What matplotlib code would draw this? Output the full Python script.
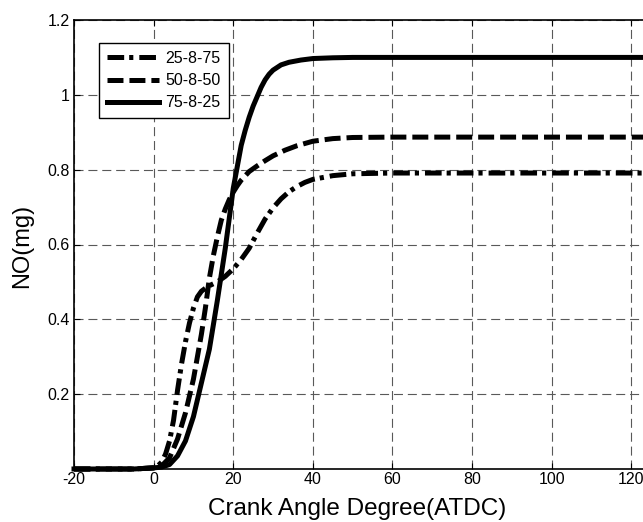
import numpy as np
import matplotlib
matplotlib.use("Agg")
from matplotlib import pyplot as plt

plt.rcParams['font.family'] = ['Liberation Sans', 'DejaVu Sans']
plt.rcParams['lines.scale_dashes'] = False
plt.rcParams['axes.unicode_minus'] = False

# NO mass vs crank angle, three injection splits
labels = ["25-8-75", "50-8-50", "75-8-25"]

x_25 = [-20, -5, 0, 1, 2, 3, 4, 5, 6, 7, 8, 9, 10, 11, 12, 13, 14, 16, 18, 20,
        22, 24, 26, 28, 30, 32, 34, 36, 38, 40, 45, 50, 60, 140]
y_25 = [0, 0, 0.003, 0.008, 0.018, 0.04, 0.075, 0.13, 0.21, 0.28, 0.34, 0.39,
        0.43, 0.46, 0.475, 0.483, 0.49, 0.50, 0.515, 0.535, 0.56, 0.59, 0.63,
        0.668, 0.698, 0.722, 0.741, 0.755, 0.766, 0.774, 0.784, 0.789, 0.791,
        0.791]

x_50 = [-20, -5, 0, 2, 4, 6, 8, 10, 11, 12, 13, 14, 15, 16, 17, 18, 19, 20, 21,
        22, 24, 26, 28, 30, 33, 36, 40, 45, 50, 60, 140]
y_50 = [0, 0, 0.003, 0.008, 0.03, 0.08, 0.15, 0.24, 0.30, 0.36, 0.43, 0.51,
        0.57, 0.62, 0.665, 0.695, 0.72, 0.74, 0.757, 0.772, 0.795, 0.81, 0.824,
        0.837, 0.852, 0.864, 0.876, 0.883, 0.886, 0.887, 0.887]

x_75 = [-20, -5, 0, 2, 4, 6, 8, 10, 12, 14, 16, 18, 20, 22, 23, 24, 25, 26, 27,
        28, 29, 30, 32, 34, 37, 40, 45, 50, 140]
y_75 = [0, 0, 0.003, 0.005, 0.012, 0.035, 0.075, 0.14, 0.23, 0.32, 0.45, 0.59,
        0.75, 0.865, 0.905, 0.94, 0.97, 0.995, 1.02, 1.04, 1.055, 1.066, 1.08,
        1.087, 1.093, 1.097, 1.099, 1.1, 1.1]

xticks = [-20, 0, 20, 40, 60, 80, 100, 120]
yticks = [0.2, 0.4, 0.6, 0.8, 1.0, 1.2]
ytick_labels = ["0.2", "0.4", "0.6", "0.8", "1", "1.2"]

W, H = 643, 522
fig = plt.figure(figsize=(W / 100, H / 100), dpi=100)
# axes runs off the right edge of the picture, like the cropped original
ax = fig.add_axes([74 / W, 1 - 469 / H, 637 / W, 449 / H])

lw = 3.6
ax.plot(x_25, y_25, color='k', lw=lw, linestyle=(0, (12, 3.6, 3, 4.3)),
        label=labels[0], clip_on=False)
ax.plot(x_50, y_50, color='k', lw=lw, linestyle=(0, (11.5, 4.3)),
        label=labels[1], clip_on=False)
ax.plot(x_75, y_75, color='k', lw=lw, linestyle='-',
        label=labels[2], clip_on=False)

ax.set_xlim(-20, 140)
ax.set_ylim(0, 1.2)
ax.set_xticks(xticks)
ax.set_yticks(yticks)
ax.set_yticklabels(ytick_labels)
ax.tick_params(direction='in', length=4, width=0.8, labelsize=11.5, pad=3,
               top=True)
ax.tick_params(axis='x', pad=2)

ax.grid(True, color='0.35', lw=0.8, linestyle=(0, (6.5, 3.5)))
for s in ax.spines.values():
    s.set_linewidth(1.2)

ax.set_xlabel("Crank Angle Degree(ATDC)", fontsize=17.5)
ax.xaxis.set_label_coords(357.5 / W, 1 - 515 / H, transform=fig.transFigure)
ax.xaxis.label.set_va('baseline')
ax.set_ylabel("NO(mg)", fontsize=17)
ax.yaxis.set_label_coords(33 / W, 1 - 246 / H, transform=fig.transFigure)
ax.yaxis.label.set_va('bottom')

leg = ax.legend(loc='upper left', bbox_to_anchor=(99 / W, 1 - 43 / H),
                bbox_transform=fig.transFigure, borderaxespad=0,
                fontsize=11.5, handlelength=3.25, handletextpad=0.4,
                labelspacing=0.45, borderpad=0.5, fancybox=False,
                framealpha=1, edgecolor='k')
leg.get_frame().set_linewidth(1.0)

fig.savefig("out.png", dpi=100)
